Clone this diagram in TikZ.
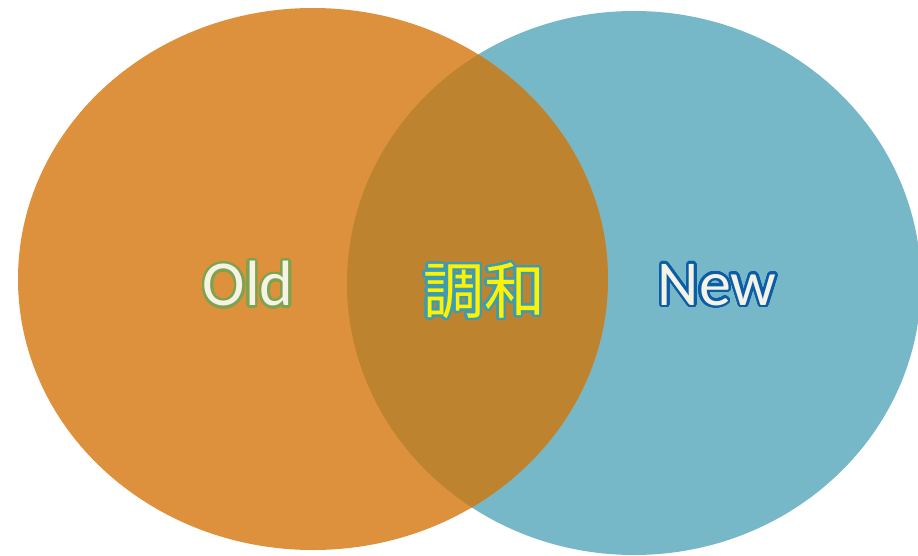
\documentclass[tikz,border=0pt]{standalone}
\usepackage{fontspec}
\setmainfont{Carlito}
\newfontfamily\cjk{Noto Sans CJK JP}
\usepackage{contour}
\contourlength{2.4pt}
\contournumber{32}
\definecolor{oldfill}{HTML}{DE913C}
\definecolor{newfill}{HTML}{77B8C8}
\definecolor{mixfill}{HTML}{BE832F}
\definecolor{oldline}{HTML}{7FA34D}
\definecolor{newline}{HTML}{0B5DA8}
\definecolor{mixline}{HTML}{3B9CB5}
\definecolor{paper}{HTML}{F5F2E6}
\definecolor{mixtext}{HTML}{FFF200}
\tikzset{
  label/.style={inner sep=0pt, font=\fontsize{64}{64}\selectfont},
}
\begin{document}
\begin{tikzpicture}[x=1pt,y=-1pt]
\useasboundingbox (0,0) rectangle (918,556);
\fill[newfill] (634,283) ellipse [x radius=287, y radius=272];
\fill[oldfill] (313,279) ellipse [x radius=295, y radius=271];
\begin{scope}
\clip (634,283) ellipse [x radius=287, y radius=272];
\fill[mixfill] (313,279) ellipse [x radius=295, y radius=271];
\end{scope}
\node[label] (old) at (248,285) {\contour{oldline}{\textcolor{paper}{Old}}};
\node[label, font=\cjk\fontsize{61}{61}\selectfont] (mix) at (484,292) {\contour{mixline}{\textcolor{mixtext}{調和}}};
\node[label] (new) at (717,286) {\contour{newline}{\textcolor{paper}{New}}};
\end{tikzpicture}
\end{document}
